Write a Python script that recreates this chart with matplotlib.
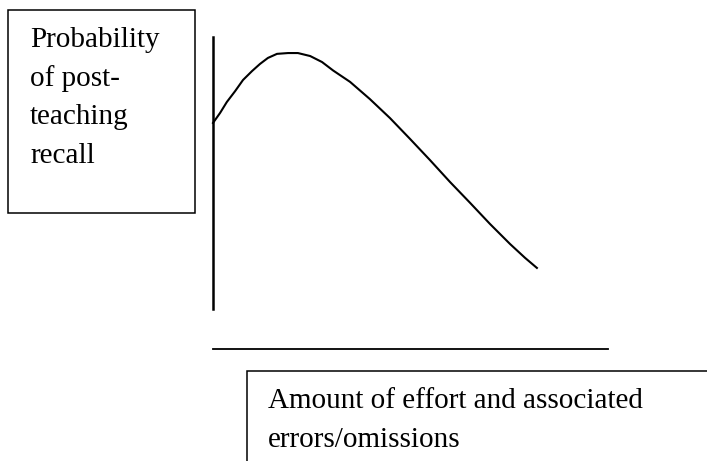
import numpy as np
import matplotlib
matplotlib.use('Agg')
import matplotlib.pyplot as plt
from matplotlib.patches import Rectangle

# conceptual curve: effort (0..1) vs probability of recall (0..1)
effort = [0.0, 0.018, 0.035, 0.056, 0.076, 0.099, 0.119, 0.139, 0.162, 0.190, 0.215,
          0.246, 0.276, 0.304, 0.347, 0.397, 0.448, 0.499, 0.549, 0.600, 0.651,
          0.701, 0.752, 0.790, 0.820]
recall = [0.684, 0.721, 0.761, 0.801, 0.842, 0.875, 0.901, 0.923, 0.938, 0.941, 0.941,
          0.930, 0.908, 0.877, 0.835, 0.772, 0.702, 0.625, 0.548, 0.467, 0.390,
          0.313, 0.239, 0.188, 0.151]

ylabel_lines = ["Probability", "of post-", "teaching", "recall"]
xlabel_lines = ["Amount of effort and associated", "errors/omissions"]

W, H = 707, 461
fig = plt.figure(figsize=(W/100, H/100), dpi=100)

# plot area spans the vertical axis line and horizontal axis line
ax = fig.add_axes([213/W, (H-309)/H, 395/W, 272/H])
ax.set_xlim(0, 1)
ax.set_ylim(0, 1)
ax.axis('off')

ax.plot(effort, recall, color='black', lw=1.5, clip_on=False, solid_joinstyle='round')
ax.plot([0, 0], [0, 1], color='black', lw=1.8, clip_on=False)
ax.plot([0, 1], [-0.147, -0.147], color='black', lw=1.3, clip_on=False)

# label boxes
fig.patches.append(Rectangle((8/W, (H-213)/H), 187/W, 203/H, transform=fig.transFigure,
                             fill=False, edgecolor='black', lw=1.1))
fig.patches.append(Rectangle((247/W, -10/H), 470/W, (H-371+10)/H, transform=fig.transFigure,
                             fill=False, edgecolor='black', lw=1.1, clip_on=False))

font = dict(family='Liberation Serif', fontsize=21, color='black', va='baseline', ha='left')
for i, line in enumerate(ylabel_lines):
    fig.text(30/W, 1 - (47 + 38.7*i)/H, line, **font)
for i, line in enumerate(xlabel_lines):
    fig.text(268/W, 1 - (408 + 39*i)/H, line, **font)

fig.savefig('out.png', dpi=100)
